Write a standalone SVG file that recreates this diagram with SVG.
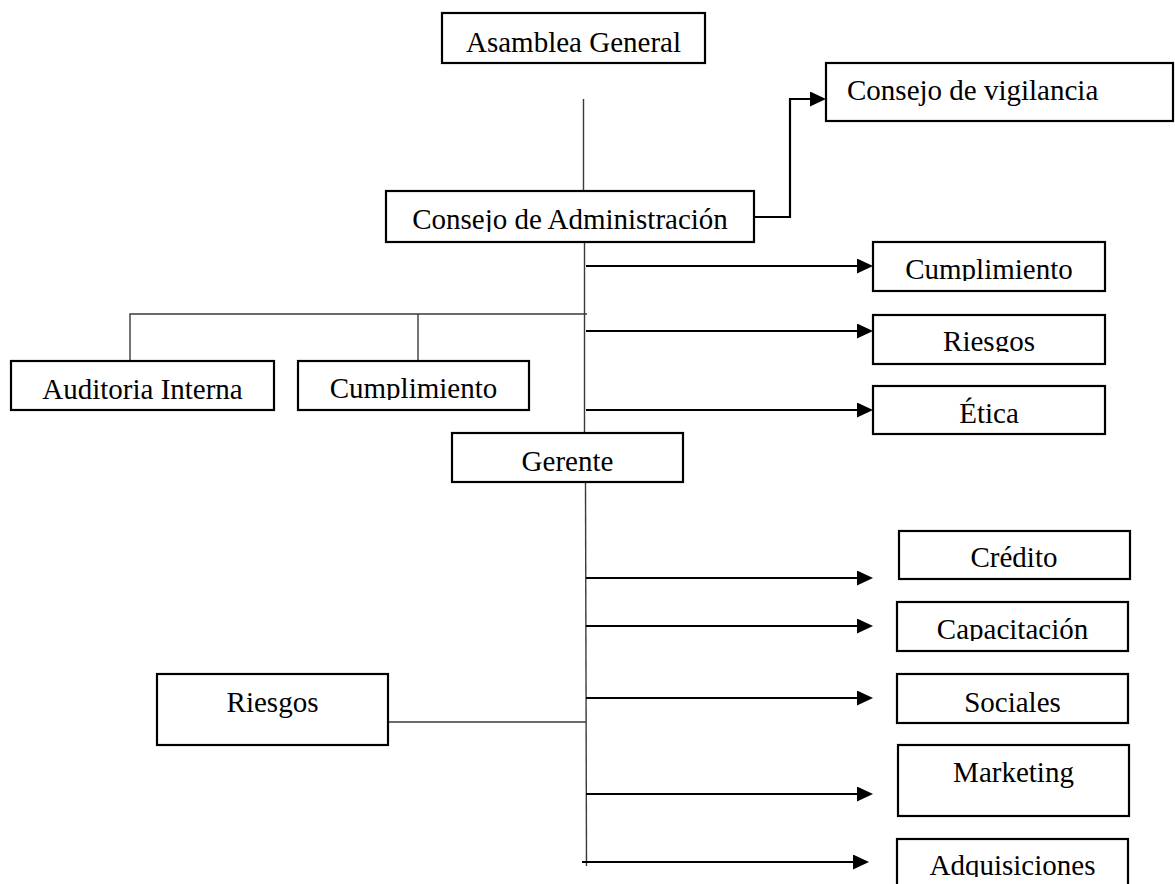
<svg xmlns="http://www.w3.org/2000/svg" width="1175" height="884" viewBox="0 0 1175 884">
  <style>
    .box { fill: #ffffff; stroke: #000000; stroke-width: 2.2; }
    .lbl { font-family: "Liberation Serif", "Times New Roman", serif; font-size: 29px; fill: #000000; text-anchor: middle; }
    .thin { fill: none; stroke: #3a3a3a; stroke-width: 1.4; }
    .arrow { fill: none; stroke: #000000; stroke-width: 2.2; marker-end: url(#head); }
  </style>
  <defs>
    <marker id="head" markerUnits="userSpaceOnUse" markerWidth="16" markerHeight="15" refX="12" refY="7.5" orient="auto">
      <path d="M0,0 L16,7.5 L0,15 z" fill="#000000"/>
    </marker>
    <!-- text frames that cut off descenders -->
    <clipPath id="cp-admin"><rect x="386" y="191" width="368" height="41"/></clipPath>
    <clipPath id="cp-cump-r"><rect x="873" y="242" width="232" height="39"/></clipPath>
    <clipPath id="cp-ries-r"><rect x="873" y="315" width="232" height="37"/></clipPath>
    <clipPath id="cp-cump-l"><rect x="298" y="361" width="231" height="39"/></clipPath>
    <clipPath id="cp-capa"><rect x="897" y="602" width="231" height="39"/></clipPath>
    <clipPath id="cp-adq"><rect x="897" y="839" width="231" height="38"/></clipPath>
  </defs>

  <g id="connectors">
    <line class="thin" x1="583.5" y1="99" x2="583.5" y2="191"/>
    <line class="thin" x1="584.5" y1="243" x2="584.5" y2="433"/>
    <line class="thin" x1="585.5" y1="482" x2="586.5" y2="866"/>
    <polyline class="thin" points="130,361 130,314 587,314"/>
    <line class="thin" x1="418" y1="314" x2="418" y2="361"/>
    <line class="thin" x1="388" y1="722" x2="586" y2="722"/>
    <polyline class="arrow" points="754,217 790,217 790,99 822,99"/>
    <line class="arrow" x1="586" y1="266" x2="869" y2="266"/>
    <line class="arrow" x1="586" y1="331" x2="869" y2="331"/>
    <line class="arrow" x1="586" y1="410" x2="869" y2="410"/>
    <line class="arrow" x1="586" y1="578" x2="869" y2="578"/>
    <line class="arrow" x1="586" y1="626" x2="869" y2="626"/>
    <line class="arrow" x1="586" y1="698" x2="869" y2="698"/>
    <line class="arrow" x1="586" y1="794" x2="869" y2="794"/>
    <line class="arrow" x1="582" y1="862" x2="865" y2="862"/>
  </g>

  <g id="asamblea-general">
    <rect class="box" x="442" y="13" width="263" height="50"/>
    <text class="lbl" x="573.5" y="52">Asamblea General</text>
  </g>
  <g id="consejo-vigilancia">
    <rect class="box" x="826" y="63" width="347" height="58"/>
    <text class="lbl" x="847" y="100" style="text-anchor:start">Consejo de vigilancia</text>
  </g>
  <g id="consejo-administracion">
    <rect class="box" x="386" y="191" width="368" height="51"/>
    <text class="lbl" x="570" y="229" clip-path="url(#cp-admin)">Consejo de Administración</text>
  </g>
  <g id="comite-cumplimiento">
    <rect class="box" x="873" y="242" width="232" height="49"/>
    <text class="lbl" x="989" y="279" clip-path="url(#cp-cump-r)">Cumplimiento</text>
  </g>
  <g id="comite-riesgos">
    <rect class="box" x="873" y="315" width="232" height="49"/>
    <text class="lbl" x="989" y="351" clip-path="url(#cp-ries-r)">Riesgos</text>
  </g>
  <g id="comite-etica">
    <rect class="box" x="873" y="386" width="232" height="48"/>
    <text class="lbl" x="989" y="423">Ética</text>
  </g>
  <g id="auditoria-interna">
    <rect class="box" x="11" y="361" width="263" height="49"/>
    <text class="lbl" x="142.5" y="399">Auditoria Interna</text>
  </g>
  <g id="cumplimiento">
    <rect class="box" x="298" y="361" width="231" height="49"/>
    <text class="lbl" x="413.5" y="398" clip-path="url(#cp-cump-l)">Cumplimiento</text>
  </g>
  <g id="gerente">
    <rect class="box" x="452" y="433" width="231" height="49"/>
    <text class="lbl" x="567.5" y="471">Gerente</text>
  </g>
  <g id="credito">
    <rect class="box" x="899" y="531" width="231" height="48"/>
    <text class="lbl" x="1014" y="567">Crédito</text>
  </g>
  <g id="capacitacion">
    <rect class="box" x="897" y="602" width="231" height="49"/>
    <text class="lbl" x="1012.5" y="639" clip-path="url(#cp-capa)">Capacitación</text>
  </g>
  <g id="sociales">
    <rect class="box" x="897" y="674" width="231" height="49"/>
    <text class="lbl" x="1012.5" y="712">Sociales</text>
  </g>
  <g id="marketing">
    <rect class="box" x="898" y="745" width="231" height="71"/>
    <text class="lbl" x="1013.5" y="782">Marketing</text>
  </g>
  <g id="adquisiciones">
    <rect class="box" x="897" y="839" width="231" height="60"/>
    <text class="lbl" x="1012.5" y="875" clip-path="url(#cp-adq)">Adquisiciones</text>
  </g>
  <g id="riesgos">
    <rect class="box" x="157" y="674" width="231" height="71"/>
    <text class="lbl" x="272.5" y="712">Riesgos</text>
  </g>
</svg>
